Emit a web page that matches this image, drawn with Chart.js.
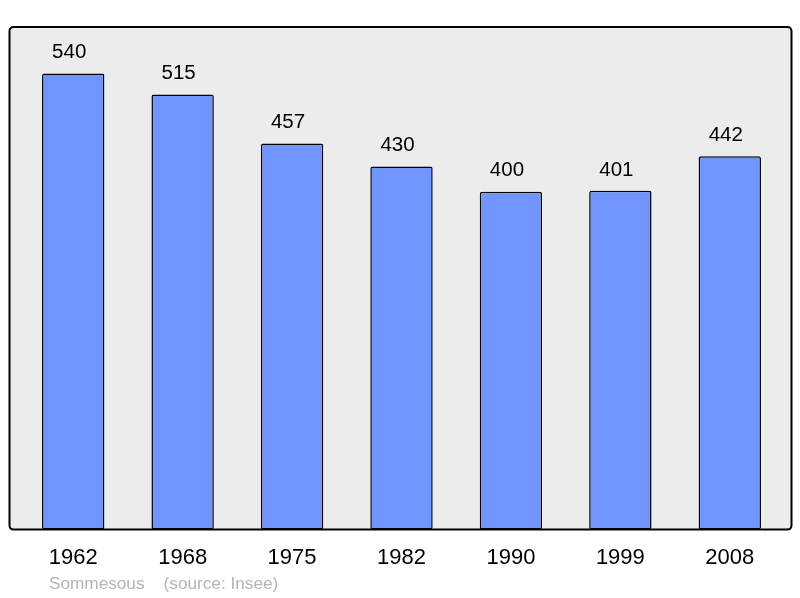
<!DOCTYPE html>
<html>
<head>
<meta charset="utf-8">
<script src="https://cdn.jsdelivr.net/npm/chart.js@4"></script>
<style>
  html, body { margin: 0; padding: 0; background: #fff; }
  #wrap { width: 800px; height: 598px; position: relative; }
</style>
</head>
<body>
<div id="wrap"><canvas id="c"></canvas></div>
<script>
// Population data
const years = ['1962', '1968', '1975', '1982', '1990', '1999', '2008'];
const population = [540, 515, 457, 430, 400, 401, 442];
const footer_text = 'Sommesous    (source: Insee)';

const bar_color = '#7095ff';
const frame_bg = '#ececec';
const font_family = '"Liberation Sans", Arial, sans-serif';

// Frame behind the bars, value labels and footer
const framePlugin = {
    id: 'frame',
    beforeDraw(chart) {
        const { ctx, chartArea } = chart;
        const x0 = chartArea.left - 9, x1 = chartArea.right + 7;
        const y0 = chartArea.top, y1 = chartArea.bottom;
        ctx.save();
        ctx.beginPath();
        ctx.roundRect(x0, y0, x1 - x0, y1 - y0, 4);
        ctx.fillStyle = frame_bg;
        ctx.fill();
        ctx.restore();
    },
    afterDatasetsDraw(chart) {
        const { ctx, chartArea } = chart;
        const x0 = chartArea.left - 9, x1 = chartArea.right + 7;
        const y0 = chartArea.top, y1 = chartArea.bottom;
        ctx.save();
        ctx.beginPath();
        ctx.roundRect(x0, y0, x1 - x0, y1 - y0, 4);
        ctx.lineWidth = 2;
        ctx.strokeStyle = '#000';
        ctx.stroke();
        // value labels
        ctx.font = '20.5px ' + font_family;
        ctx.fillStyle = '#000';
        ctx.textAlign = 'center';
        ctx.textBaseline = 'middle';
        chart.getDatasetMeta(0).data.forEach((bar, i) => {
            ctx.fillText(String(population[i]), bar.x - 4, bar.y - 21);
        });
        // footer
        ctx.font = '17.2px ' + font_family;
        ctx.fillStyle = '#b4b4b4';
        ctx.textAlign = 'left';
        ctx.fillText(footer_text, 49, 584);
        ctx.restore();
    }
};

const data = {
    labels: years,
    datasets: [{
        data: population,
        backgroundColor: bar_color,
        borderColor: '#000',
        borderWidth: 1.5,
        borderRadius: 2,
        borderSkipped: false,
        barPercentage: 0.57,
        categoryPercentage: 1
    }]
};

const options = {
    animation: false,
    responsive: true,
    maintainAspectRatio: false,
    layout: { padding: { left: 18.5, right: 15.5, top: 27, bottom: 12 } },
    plugins: { legend: { display: false }, tooltip: { enabled: false } },
    scales: {
        x: {
            grid: { display: false, drawTicks: false },
            border: { display: false },
            ticks: {
                padding: 15,
                color: '#000',
                font: { size: 22, family: font_family }
            }
        },
        y: {
            display: false,
            min: 0,
            max: 595
        }
    }
};

new Chart(document.getElementById('c'), { type: 'bar', data: data, options: options, plugins: [framePlugin] });
</script>
</body>
</html>
